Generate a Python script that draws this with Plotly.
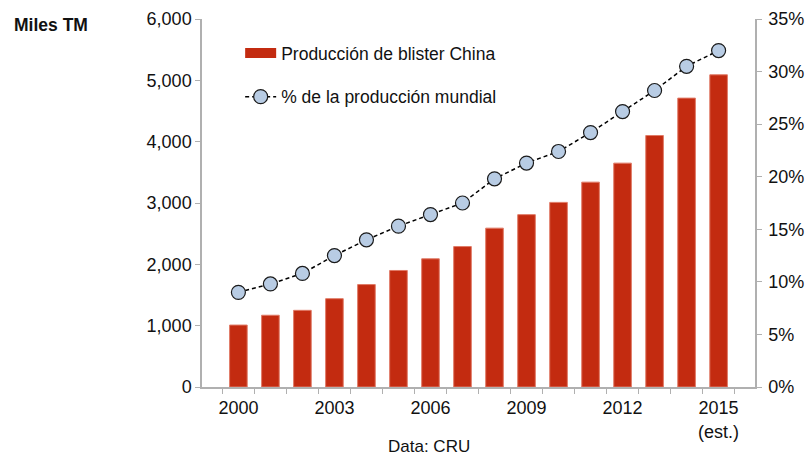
import plotly.graph_objects as go

years = [str(y) for y in range(2000, 2016)]
production = [1010, 1170, 1250, 1440, 1670, 1900, 2090, 2290, 2590, 2810, 3010, 3340, 3650, 4100, 4710, 5090]
share_pct = [9.0, 9.8, 10.8, 12.5, 14.0, 15.3, 16.4, 17.5, 19.8, 21.3, 22.4, 24.2, 26.2, 28.2, 30.5, 32.0]
tick_labels = {"2000": "2000", "2003": "2003", "2006": "2006", "2009": "2009",
               "2012": "2012", "2015": "2015<br>(est.)"}
left_ticks = [0, 1000, 2000, 3000, 4000, 5000, 6000]
right_ticks = [0, 5, 10, 15, 20, 25, 30, 35]

font_family = "Liberation Sans, Arial, sans-serif"
axis_color = "#b0b0b0"
bar_color = "#c32b10"

fig = go.Figure()
fig.add_trace(go.Bar(
    x=years, y=production, name="Producción de blister China",
    marker=dict(color=bar_color, line=dict(color="#e07a66", width=1)),
    showlegend=False,
))
# legend entry drawn as a wide red rectangle
fig.add_trace(go.Scatter(
    x=[None], y=[None], name="Producción de blister China",
    mode="lines", line=dict(color=bar_color, width=10),
    legendgroup="a",
))
fig.add_trace(go.Scatter(
    x=years, y=share_pct, name="% de la producción mundial", yaxis="y2",
    mode="lines+markers",
    line=dict(color="black", width=1.5, dash="4px,3px"),
    marker=dict(size=14, color="#b8cce4", line=dict(color="#1a1a1a", width=1.2)),
    legendgroup="b",
))

fig.update_layout(
    width=808, height=452,
    margin=dict(l=202, r=53, t=19, b=65, autoexpand=False),
    paper_bgcolor="white", plot_bgcolor="white",
    font=dict(family=font_family, size=18, color="#111111"),
    bargap=0.45,
    showlegend=True,
    legend=dict(x=0.069, y=0.9565, xanchor="left", yanchor="top",
                bgcolor="rgba(0,0,0,0)", font=dict(size=17.5),
                itemwidth=31, tracegroupgap=18),
    xaxis=dict(
        type="category", automargin=False,
        tickmode="array", tickvals=years,
        ticktext=[tick_labels.get(y, "") for y in years],
        tickson="boundaries", ticklabelstandoff=4,
        ticks="outside", ticklen=5, tickcolor=axis_color,
        showline=True, linecolor=axis_color, linewidth=1.5,
        showgrid=False, tickangle=0,
    ),
    yaxis=dict(
        range=[0, 6000], tickmode="array", tickvals=left_ticks,
        ticktext=[f"{v:,}" for v in left_ticks], automargin=False,
        ticks="outside", ticklen=5, tickcolor=axis_color,
        showline=True, linecolor=axis_color, linewidth=1.5,
        showgrid=False, zeroline=False,
    ),
    yaxis2=dict(
        range=[0, 35], tickmode="array", tickvals=right_ticks,
        ticktext=[f"{v}%" for v in right_ticks], automargin=False,
        overlaying="y", side="right", ticklabelstandoff=3,
        ticks="outside", ticklen=5, tickcolor=axis_color,
        showline=True, linecolor=axis_color, linewidth=1.5,
        showgrid=False, zeroline=False,
    ),
    annotations=[
        dict(text="<b>Miles TM</b>", xref="paper", yref="paper",
             x=-0.3436, y=1.0165, xanchor="left", yanchor="top",
             showarrow=False, font=dict(size=17.5)),
        dict(text="Data: CRU", xref="paper", yref="paper",
             x=0.41, y=-0.13, xanchor="center", yanchor="top",
             showarrow=False, font=dict(size=17)),
    ],
)

fig.write_html(
    "out.html",
    config={"displayModeBar": False},
    post_script="document.body.style.margin='0';document.body.style.overflow='hidden';",
)
